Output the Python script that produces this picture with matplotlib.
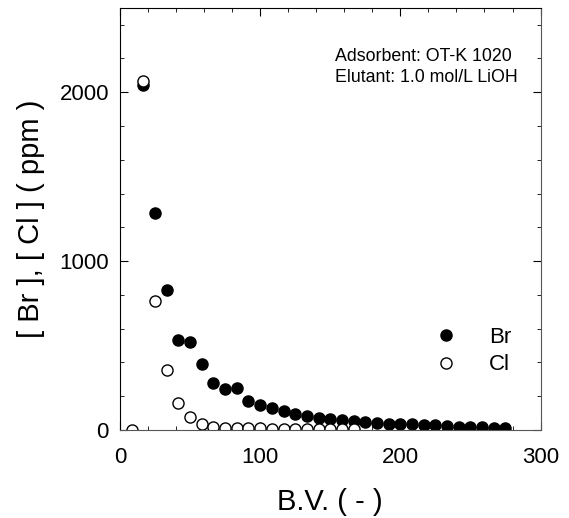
import matplotlib
matplotlib.use('Agg')
import matplotlib.pyplot as plt
from matplotlib.ticker import MultipleLocator

plt.rcParams['font.family'] = ['Liberation Sans', 'DejaVu Sans']

# bed volumes (every ~8.33 B.V.)
bv_br = [8.33 * k for k in range(2, 34)]
br = [2040, 1282, 828, 531, 523, 389, 280, 241, 251, 172, 148, 128, 112, 97,
      81, 69, 65, 57, 53, 45, 39, 38, 35, 33, 30, 27, 24, 20, 17, 15, 12, 10]
bv_cl = [8.33 * k for k in range(1, 21)]
cl = [0, 2065, 763, 357, 160, 75, 36, 20, 14, 12, 10, 9, 8, 7, 7, 6, 6, 5, 5, 5]

fig = plt.figure(figsize=(5.69, 5.18), dpi=100)
ax = fig.add_axes([0.211, 0.170, 0.739, 0.815])

ax.plot(bv_br, br, 'o', color='black', markersize=8, label='Br')
ax.plot(bv_cl, cl, 'o', markerfacecolor='white', markeredgecolor='black',
        markeredgewidth=1.0, markersize=8, label='Cl')

ax.set_xlim(0, 300)
ax.set_ylim(0, 2500)
ax.xaxis.set_major_locator(MultipleLocator(100))
ax.xaxis.set_minor_locator(MultipleLocator(20))
ax.yaxis.set_major_locator(MultipleLocator(1000))
ax.yaxis.set_minor_locator(MultipleLocator(200))
ax.set_yticks([0, 1000, 2000])
ax.tick_params(which='both', direction='in', top=True, right=True, labelsize=16)
ax.tick_params(axis='x', pad=12)
ax.tick_params(axis='y', pad=8)
ax.tick_params(which='major', length=6)
ax.tick_params(which='minor', length=3)
for s in ['bottom', 'right']:
    ax.spines[s].set_color('#555555')

ax.set_xlabel('B.V. ( - )', fontsize=21, labelpad=15)
ax.set_ylabel('[ Br ], [ Cl ] ( ppm )', fontsize=21, labelpad=10)

ax.text(0.512, 0.884, 'Adsorbent: OT-K 1020', transform=ax.transAxes,
        fontsize=12.8, ha='left', va='center')
ax.text(0.512, 0.836, 'Elutant: 1.0 mol/L LiOH', transform=ax.transAxes,
        fontsize=12.8, ha='left', va='center')

ax.legend(loc='center left', bbox_to_anchor=(0.687, 0.187), frameon=False,
          fontsize=16, handletextpad=1.2, labelspacing=0.3, handlelength=1.5)

fig.savefig('out.png', dpi=100)
